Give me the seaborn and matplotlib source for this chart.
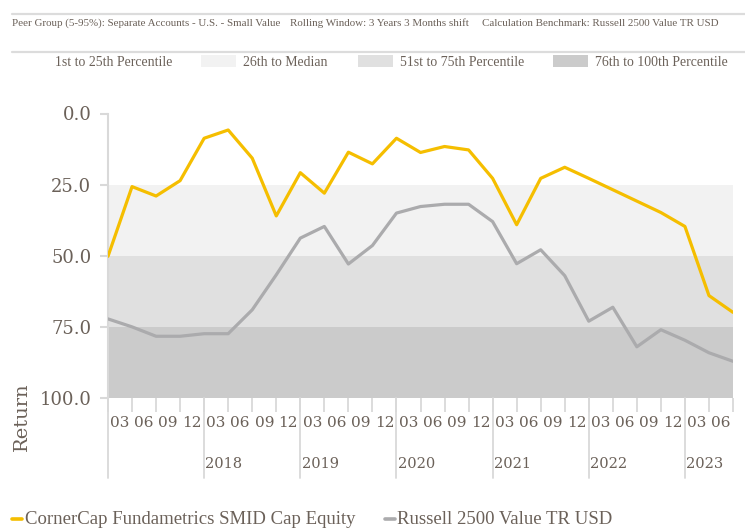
import numpy as np
import pandas as pd
import seaborn as sns
import matplotlib
matplotlib.use("Agg")
import matplotlib.pyplot as plt
from matplotlib.patches import Rectangle
from matplotlib.lines import Line2D
import matplotlib.transforms as mtransforms

# ---------------- data ----------------
months = ["03", "06", "09", "12"] * 6 + ["03", "06"]
year_labels = ["2018", "2019", "2020", "2021", "2022", "2023"]
fund_name = "CornerCap Fundametrics SMID Cap Equity"
bench_name = "Russell 2500 Value TR USD"
fund = [50.2, 25.7, 29.0, 23.6, 8.7, 5.8, 15.7, 36.0, 20.8, 28.0, 13.6, 17.7,
        8.7, 13.7, 11.6, 12.8, 22.8, 39.1, 22.8, 18.9, 22.8, 26.8, 30.8, 34.8,
        39.7, 64.0, 69.9]
bench = [72.2, 75.0, 78.3, 78.3, 77.4, 77.4, 69.0, 56.7, 43.8, 39.7, 52.9, 46.4,
         35.0, 32.7, 31.9, 31.9, 38.0, 52.8, 47.9, 57.0, 73.0, 68.1, 82.0, 76.0,
         79.7, 84.1, 87.1]
band_edges = [0, 25, 50, 75, 100]
band_labels = ["1st to 25th Percentile", "26th to Median",
               "51st to 75th Percentile", "76th to 100th Percentile"]
band_colors = ["#FFFFFF", "#F2F2F2", "#E0E0E0", "#CBCBCB"]
yticks = [0, 25, 50, 75, 100]

# ---------------- style ----------------
sns.set_theme(style="white")
plt.rcParams["font.family"] = ["DejaVu Serif"]
TXT = "#6B6159"
GRID = "#D9D9D9"
YEL = "#F5BE00"
GRY = "#ABABAD"

W, H = 745, 529
fig = plt.figure(figsize=(W / 100, H / 100), dpi=100)
ax_l, ax_r, ax_t, ax_b = 108, 733, 113.5, 398
ax = fig.add_axes([ax_l / W, 1 - ax_b / H, (ax_r - ax_l) / W, (ax_b - ax_t) / H])

# bands
for lo, hi, c in zip(band_edges[:-1], band_edges[1:], band_colors):
    ax.axhspan(lo, hi, color=c, zorder=0, lw=0)

n = len(fund)
df = pd.DataFrame({
    "x": list(range(n)) * 2,
    "value": fund + bench,
    "series": [fund_name] * n + [bench_name] * n,
})
sns.lineplot(data=df, x="x", y="value", hue="series",
             palette={fund_name: YEL, bench_name: GRY},
             linewidth=2.3, ax=ax, legend=False, zorder=3)

ax.set_xlim(0, n - 1)
ax.set_ylim(100, 0)
ax.set_xlabel("")
ax.set_ylabel("")

for s in ["top", "right", "bottom"]:
    ax.spines[s].set_visible(False)
ax.spines["left"].set_color(GRID)
ax.spines["left"].set_linewidth(1.5)

ax.set_yticks(yticks)
ax.set_yticklabels([f"{v:.1f}" for v in yticks])
ax.tick_params(axis="y", which="major", length=6, width=1.5, color=GRID,
               labelsize=13, labelcolor=TXT, pad=6, left=True)

ax.set_xticks(range(n))
ax.set_xticklabels([])
ax.set_xticks([i + 0.5 for i in range(len(months))], minor=True)
ax.set_xticklabels(months, minor=True)
ax.tick_params(axis="x", which="major", length=10, width=1.3, color=GRID,
               bottom=True, direction="out")
ax.tick_params(axis="x", which="minor", length=0, labelsize=11,
               labelcolor=TXT, pad=13, bottom=True)

# year separators and labels
trans = mtransforms.blended_transform_factory(ax.transData, ax.transAxes)
ax_h = ax_b - ax_t
sep_len = 80 / ax_h
for k in range(len(year_labels) + 1):
    xpos = 4 * k
    ax.add_line(Line2D([xpos, xpos], [0, -sep_len], transform=trans,
                       color=GRID, lw=1.3, clip_on=False))
for k, lab in enumerate(year_labels):
    xpos = 4 * (k + 1)
    ax.text(xpos + 0.05, -(464 - ax_b) / ax_h, lab, transform=trans,
            ha="left", va="center", fontsize=10.5, color=TXT)

fig.text(22 / W, 1 - 417 / H, "Return", rotation=90, ha="center",
         va="center", fontsize=14, color=TXT)

# header lines and text
for yy in (14, 52):
    fig.add_artist(Line2D([12 / W, 1], [1 - yy / H, 1 - yy / H],
                          transform=fig.transFigure, color="#DCDCDC", lw=1.6))
hdr = ["Peer Group (5-95%): Separate Accounts - U.S. - Small Value",
       "Rolling Window: 3 Years 3 Months shift",
       "Calculation Benchmark: Russell 2500 Value TR USD"]
for xx, t in zip([12, 290, 482], hdr):
    fig.text(xx / W, 1 - 23 / H, t, ha="left", va="center", fontsize=7.9,
             color=TXT, family="Liberation Serif")

# band legend
sw_x = [18, 201, 358, 553]
tx_x = [55, 243, 400, 595]
for sx, tx, lab, c in zip(sw_x, tx_x, band_labels, band_colors):
    fig.add_artist(Rectangle((sx / W, 1 - 67 / H), 35 / W, 12 / H,
                             transform=fig.transFigure, color=c, lw=0))
    fig.text(tx / W, 1 - 62 / H, lab, ha="left", va="center", fontsize=9.9,
             color=TXT, family="Liberation Serif")

# series legend
for dx, tx, lab, c in [(12, 25, fund_name, YEL), (385, 397, bench_name, GRY)]:
    fig.add_artist(Line2D([dx / W, (dx + 10) / W], [1 - 519 / H, 1 - 519 / H],
                          transform=fig.transFigure, color=c, lw=2.6))
    fig.text(tx / W, 1 - 519 / H, lab, ha="left", va="center", fontsize=13.5,
             color=TXT, family="Liberation Serif")

fig.savefig("out.png", dpi=100)
